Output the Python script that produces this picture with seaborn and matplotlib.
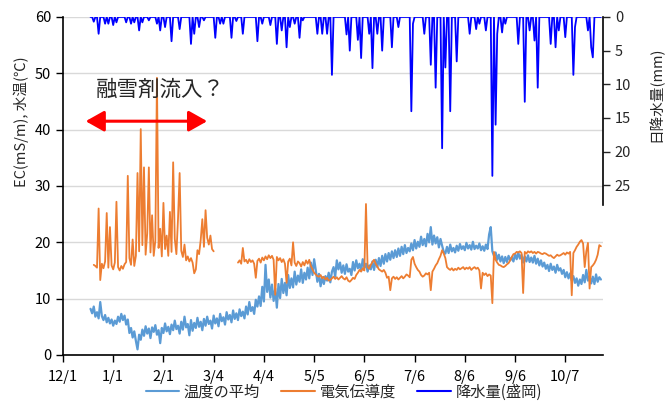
import matplotlib
matplotlib.use("Agg")
import matplotlib.pyplot as plt
from matplotlib.lines import Line2D
import numpy as np
import pandas as pd
import seaborn as sns

# ---------------------------------------------------------------------------
# data (daily values)
# ---------------------------------------------------------------------------
START = pd.Timestamp("2018-12-01")

temp_first_day = 17
temp_avg = [
    8.2, 7.4, 8.6, 6.8, 7.6, 6.5, 9.4, 6.9, 6.2, 7.1,
    5.8, 6.6, 5.6, 6.3, 5.2, 6.1, 5.5, 6.8, 5.9, 7.3,
    6.2, 7.0, 5.4, 6.3, 3.9, 4.8, 3.1, 4.2, 2.5, 1.0,
    3.6, 2.7, 4.5, 3.4, 5.1, 3.8, 4.7, 3.0, 4.9, 4.1,
    5.3, 3.6, 4.4, 2.1, 4.8, 3.9, 5.6, 4.2, 5.0, 3.7,
    5.4, 4.4, 6.1, 4.6, 5.2, 3.8, 5.9, 4.5, 6.8, 4.9,
    5.5, 3.5, 6.2, 4.3, 5.7, 4.8, 6.6, 5.0, 5.9, 4.4,
    6.4, 5.2, 6.8, 5.5, 6.1, 4.7, 7.0, 5.6, 6.5, 5.1,
    7.3, 6.0, 6.7, 5.4, 7.6, 6.3, 7.1, 5.8, 7.9, 6.4,
    7.4, 6.2, 8.1, 6.9, 7.7, 6.5, 8.6, 7.2, 9.4, 7.8,
    8.5, 7.3, 9.8, 8.6, 10.4, 8.7, 12.1, 9.5, 16.0, 11.2,
    13.4, 10.2, 12.5, 9.6, 11.8, 8.4, 12.6, 10.1, 13.5, 11.0,
    12.8, 10.6, 14.2, 11.9, 13.6, 12.0, 14.8, 12.5, 14.1, 13.0,
    15.2, 12.8, 14.6, 13.4, 15.5, 13.6, 16.4, 14.2, 17.0, 15.1,
    13.0, 14.4, 12.2, 13.8, 12.6, 14.0, 13.2, 14.6, 12.9, 14.8,
    15.6, 13.9, 16.8, 15.2, 16.4, 14.6, 15.9, 14.4, 16.1, 14.8,
    15.3, 14.2, 16.5, 15.0, 16.8, 15.4, 16.2, 14.9, 17.0, 15.5,
    16.2, 14.8, 15.9, 15.2, 16.6, 15.1, 16.9, 15.6, 17.2, 15.8,
    17.6, 16.2, 17.9, 16.6, 18.1, 16.9, 18.4, 17.2, 18.6, 17.4,
    18.9, 17.6, 19.2, 17.9, 19.5, 18.1, 19.0, 18.4, 19.8, 18.6,
    20.4, 18.9, 20.1, 19.2, 21.0, 19.5, 20.6, 19.3, 21.5, 20.0,
    22.7, 19.6, 21.2, 19.8, 20.9, 19.1, 20.6, 19.4, 18.3, 18.0,
    19.2, 18.1, 19.6, 18.4, 19.0, 18.2, 19.4, 18.5, 19.7, 18.8,
    19.3, 18.6, 19.9, 18.9, 19.5, 18.7, 20.1, 18.8, 19.4, 18.9,
    19.8, 18.6, 19.3, 18.5, 19.6, 18.8, 21.4, 22.7, 18.4, 17.6,
    18.2, 16.9, 17.8, 16.6, 17.5, 16.3, 17.4, 16.5, 17.6, 16.8,
    17.3, 16.6, 17.9, 17.0, 18.2, 17.1, 17.8, 16.4, 17.5, 16.6,
    17.7, 16.5, 17.3, 16.4, 17.6, 16.2, 17.1, 15.9, 16.8, 15.7,
    16.4, 15.3, 16.0, 14.9, 16.2, 15.1, 15.7, 14.6, 16.0, 15.0,
    15.4, 14.4, 15.1, 13.8, 14.7, 13.6, 14.5, 13.2, 14.0, 12.8,
    13.6, 12.3, 13.4, 12.6, 14.2, 12.9, 15.1, 13.2, 14.0, 12.7,
    13.9, 12.6, 14.3, 13.0, 13.8, 13.4,
]

# conductivity, two stretches (no record in early March)
ec_winter_first_day = 19
ec_winter = [
    16.0, 15.8, 15.5, 26.0, 13.3, 16.2, 15.4, 16.6, 25.2, 15.5,
    22.7, 15.9, 15.2, 16.4, 27.2, 15.6, 15.0, 15.8, 15.3, 16.1,
    16.5, 31.8, 17.2, 16.0, 20.5, 15.8, 17.6, 32.3, 18.4, 40.1,
    19.5, 33.3, 17.8, 21.6, 33.3, 18.2, 24.8, 17.6, 20.3, 49.2,
    19.0, 22.4, 17.5, 27.0, 18.8, 21.2, 17.6, 25.4, 18.3, 34.2,
    20.6, 17.9, 24.2, 32.3, 18.5, 17.4, 19.6, 16.8, 17.5, 16.6,
    17.2, 16.4, 14.5, 15.2, 18.6, 17.9, 20.4, 24.1, 19.2, 25.7,
    20.8, 19.6, 21.2, 18.8, 18.4,
]
ec_summer_first_day = 108
ec_summer = [
    16.4, 16.8, 16.2, 19.0, 16.6, 16.9, 16.3, 17.0, 16.5, 16.8,
    16.2, 13.7, 16.7, 17.1, 16.4, 17.3, 16.8, 17.5, 17.0, 17.7,
    17.2, 17.6, 16.9, 10.7, 17.4, 16.8, 17.2, 16.5, 17.0, 16.2,
    12.8, 16.6, 17.1, 15.9, 20.0, 16.4, 15.8, 16.6, 16.3, 15.7,
    16.5, 15.9, 16.8, 16.2, 16.9, 15.8, 15.2, 14.6, 14.3, 14.0,
    13.9, 14.2, 13.6, 13.9, 13.4, 13.7, 13.2, 13.3, 13.6, 13.9,
    13.5, 13.8, 13.4, 13.7, 14.0, 13.6, 13.4, 13.8, 13.2, 13.0,
    13.3, 13.7, 13.5, 14.2, 14.6, 15.1, 14.8, 15.4, 15.0, 26.8,
    15.6, 15.3, 16.0, 16.5, 16.9, 16.2, 15.7, 15.2, 15.0, 14.8,
    15.1, 14.6, 13.7, 13.9, 11.5, 13.6, 13.9, 13.5, 13.8, 13.4,
    13.7, 14.0, 13.6, 13.9, 14.3, 14.1, 13.8, 16.9, 17.4, 16.2,
    15.6, 15.1, 14.8, 14.2, 13.9, 14.1, 14.5, 14.3, 14.6, 11.5,
    14.8, 15.3, 15.9, 16.3, 17.0, 17.6, 18.6, 18.0, 17.2, 15.6,
    15.3, 15.1, 15.4, 15.0, 15.3, 15.1, 15.5, 15.2, 15.4, 15.6,
    15.2, 15.5, 15.3, 15.6, 15.1, 15.4, 15.6, 15.3, 15.5, 15.0,
    11.8, 14.6, 14.2, 14.5, 14.0, 14.3, 14.1, 9.2, 18.3, 16.9,
    16.4, 16.0, 15.9, 15.7, 15.6, 15.8, 16.1, 16.3, 16.8, 17.4,
    17.9, 18.0, 18.3, 18.2, 18.4, 18.1, 11.0, 18.3, 18.0, 18.4,
    18.2, 18.4, 18.1, 18.3, 18.0, 18.3, 18.2, 18.0, 17.9, 18.1,
    18.0, 17.8, 17.6, 17.7, 17.4, 17.2, 17.5, 17.8, 17.6, 17.7,
    17.9, 18.1, 17.8, 18.2, 18.0, 18.3, 10.6, 18.1, 18.6, 19.2,
    19.6, 20.1, 20.4, 19.8, 15.6, 18.4, 19.9, 11.8, 15.6, 15.9,
    16.3, 16.9, 17.8, 19.5, 19.3,
]

# daily rainfall (Morioka), only the days with rain
rain_first_day = 17
rain_last_day = 332
rain_day = [19, 22, 26, 28, 31, 33, 39, 42, 44, 47,
            49, 53, 58, 60, 63, 67, 72, 79, 81, 84,
            87, 94, 97, 99, 104, 107, 111, 120, 123, 128,
            132, 135, 138, 140, 143, 146, 148, 157, 160, 163,
            166, 175, 177, 182, 184, 189, 191, 194, 197, 203,
            207, 215, 216, 223, 227, 230, 234, 236, 239, 243,
            251, 255, 257, 261, 265, 267, 268, 271, 273, 281,
            285, 288, 291, 293, 301, 304, 306, 310, 315, 316,
            324, 326, 327]
rain_mm = [0.7, 2.5, 1.0, 1.0, 1.2, 0.8, 0.8, 1.0, 0.8, 2.0,
           0.8, 0.5, 1.0, 2.0, 1.5, 3.6, 1.8, 4.0, 2.5, 1.5,
           0.5, 3.1, 1.0, 1.0, 3.1, 0.6, 2.5, 3.6, 1.0, 1.2,
           4.0, 2.0, 4.5, 1.5, 1.0, 3.1, 0.5, 2.5, 2.5, 2.5,
           8.6, 2.6, 5.0, 3.4, 6.1, 2.5, 7.6, 2.5, 5.0, 4.5,
           1.5, 14.0, 1.0, 2.5, 7.1, 10.5, 19.5, 7.5, 14.0, 6.6,
           2.5, 1.8, 1.0, 2.0, 23.6, 16.0, 2.5, 2.3, 1.0, 4.0,
           12.6, 2.0, 3.5, 10.5, 4.0, 4.5, 2.0, 3.0, 8.6, 1.5,
           2.0, 4.5, 6.0]

tick_dates = ["2018-12-01", "2019-01-01", "2019-02-01", "2019-03-04",
              "2019-04-04", "2019-05-05", "2019-06-05", "2019-07-06",
              "2019-08-06", "2019-09-06", "2019-10-07"]
tick_labels = ["12/1", "1/1", "2/1", "3/4", "4/4", "5/5", "6/5", "7/6",
               "8/6", "9/6", "10/7"]

series_names = ["温度の平均", "電気伝導度", "降水量(盛岡)"]
note_text = "融雪剤流入？"
note_span = ("2018-12-15", "2019-02-28")
note_level = 41.5

C_TEMP = "#5B9BD5"
C_EC = "#ED7D31"
C_RAIN = "#0000FF"


def daily_frame(first_day, values):
    days = np.arange(len(values)) + first_day
    return pd.DataFrame({"date": START + pd.to_timedelta(days, unit="D"),
                         "value": values})


temp_df = daily_frame(temp_first_day, temp_avg)
ec_a = daily_frame(ec_winter_first_day, ec_winter)
ec_b = daily_frame(ec_summer_first_day, ec_summer)

rain = pd.Series(0.0, index=np.arange(rain_first_day, rain_last_day + 1))
rain.loc[rain_day] = rain_mm
rain_df = daily_frame(rain_first_day, rain.values)

# ---------------------------------------------------------------------------
# plot
# ---------------------------------------------------------------------------
sns.set_style("white")
plt.rcParams["font.family"] = ["Noto Sans CJK JP", "DejaVu Sans"]

fig = plt.figure(figsize=(6.65, 4.04), dpi=100)
ax = fig.add_axes([0.0947, 0.1213, 0.8121, 0.8367])

for df, col, lw in [(temp_df, C_TEMP, 1.6), (ec_a, C_EC, 1.3), (ec_b, C_EC, 1.3)]:
    sns.lineplot(data=df, x="date", y="value", color=col, lw=lw, ax=ax,
                 legend=False)

ax.set_ylim(0, 60)
ax.set_yticks(range(0, 61, 10))
ax.set_xlim(START, START + pd.Timedelta(days=333.3))
ax.set_xticks(pd.to_datetime(tick_dates))
ax.set_xticklabels(tick_labels)
ax.set_xlabel("")
ax.set_ylabel("EC(mS/m), 水温(℃)", fontsize=10.5)
ax.yaxis.set_label_coords(-0.063, 0.69)
ax.grid(axis="y", color="#D9D9D9", lw=1)
ax.set_axisbelow(True)
for s in ["top", "right"]:
    ax.spines[s].set_visible(False)
for s in ["left", "bottom"]:
    ax.spines[s].set_color("black")
    ax.spines[s].set_linewidth(1.2)
ax.tick_params(axis="both", direction="out", length=5, width=1,
               labelsize=10.5, colors="black", left=True, bottom=True)
ax.tick_params(axis="x", pad=6)

# rainfall on an inverted secondary axis
ax2 = ax.twinx()
sns.lineplot(data=rain_df, x="date", y="value", color=C_RAIN, lw=1.3, ax=ax2,
             legend=False)
ax2.set_ylim(50.2, 0)
ax2.set_yticks(range(0, 26, 5))
ax2.set_ylabel("日降水量(mm)", fontsize=10.5)
ax2.yaxis.set_label_coords(1.083, 0.77)
ax2.spines["right"].set_bounds(0, 27.9)
ax2.spines["right"].set_color("black")
ax2.spines["right"].set_linewidth(1.2)
for s in ["top", "left", "bottom"]:
    ax2.spines[s].set_visible(False)
ax2.tick_params(axis="y", direction="out", length=5, width=1, labelsize=10.5,
                right=True)
ax2.grid(False)

# annotation
ax.text(pd.Timestamp("2019-01-30"), 47.0, note_text, fontsize=15.5,
        ha="center", va="center")
ax.annotate("", xy=(pd.Timestamp(note_span[0]), note_level),
            xytext=(pd.Timestamp(note_span[1]), note_level),
            arrowprops=dict(arrowstyle="<|-|>,head_length=0.8,head_width=0.45",
                            color="#FF0000", lw=2.2, mutation_scale=14,
                            shrinkA=0, shrinkB=0))

handles = [Line2D([], [], color=c, lw=1.5) for c in (C_TEMP, C_EC, C_RAIN)]
fig.legend(handles, series_names, loc="center", ncol=3, frameon=False,
           bbox_to_anchor=(0.517, 0.03), fontsize=11, handlelength=2.2,
           columnspacing=1.4, handletextpad=0.3)

fig.savefig("out.png", dpi=100)
